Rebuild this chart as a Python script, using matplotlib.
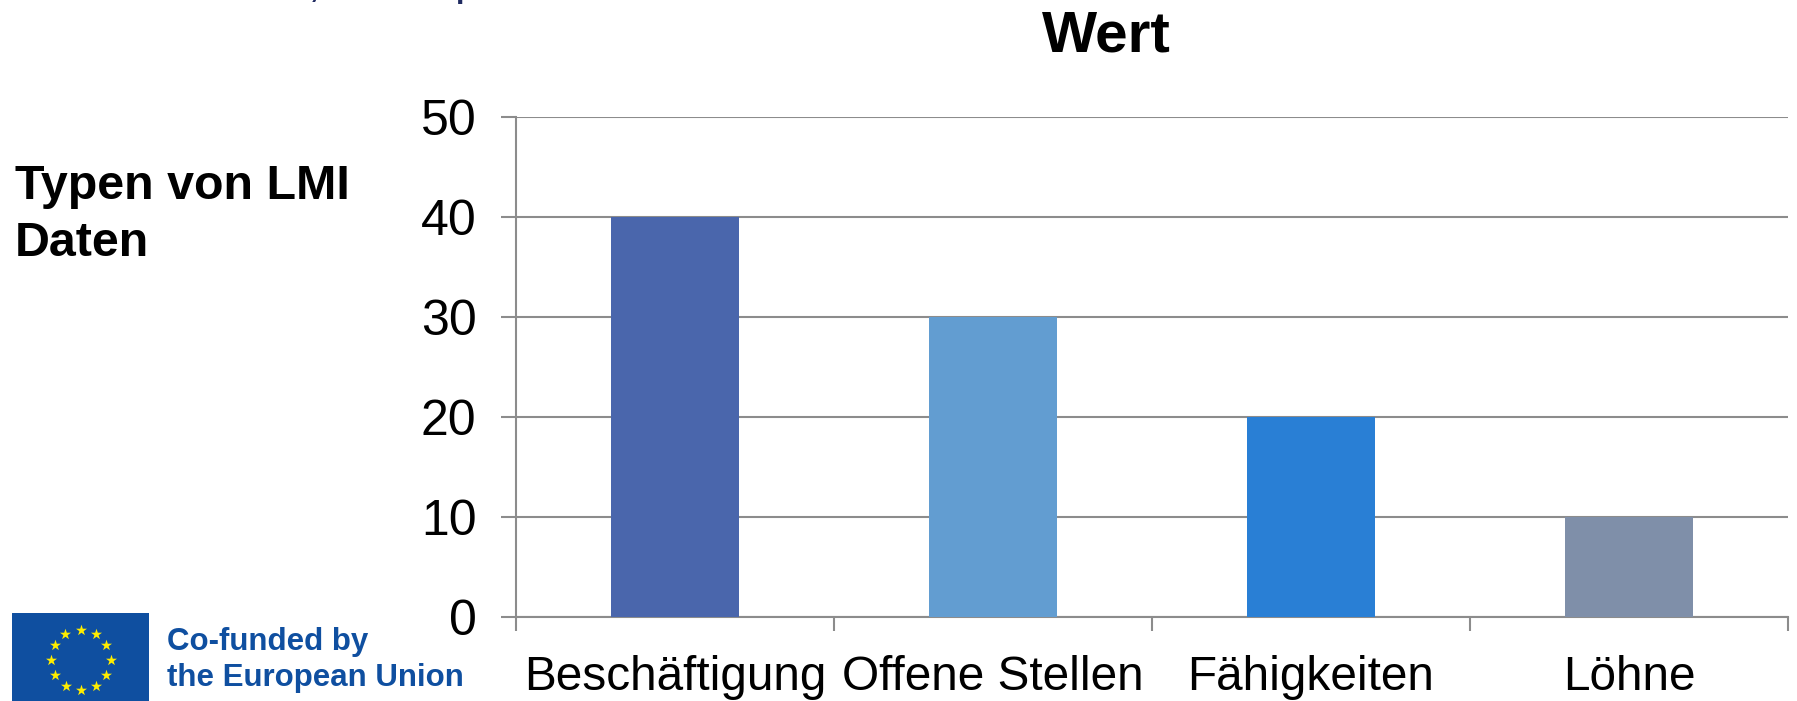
import numpy as np
import matplotlib
matplotlib.use('Agg')
import matplotlib.pyplot as plt
from matplotlib.patches import Rectangle

# --- Data ---
categories = ['Beschäftigung', 'Offene Stellen', 'Fähigkeiten', 'Löhne']
values = [40, 30, 20, 10]
bar_colors = ['#4A66AC', '#629DD1', '#297FD5', '#7F8FA9']
y_ticks = [0, 10, 20, 30, 40, 50]
chart_title = 'Wert'
side_label = 'Typen von LMI\nDaten'
logo_text = 'Co-funded by\nthe European Union'

W, H = 1797, 701
plt.rcParams['font.family'] = ['Liberation Sans', 'DejaVu Sans']

fig = plt.figure(figsize=(W / 100, H / 100), dpi=100)

# --- Chart axes, pixel box ---
left, right, top, bottom = 516, 1788, 117, 617
ax = fig.add_axes([left / W, 1 - bottom / H, (right - left) / W, (bottom - top) / H])
x = np.arange(len(categories))
ax.bar(x, values, width=0.4, color=bar_colors, zorder=3)
ax.set_xlim(-0.5, len(categories) - 0.5)
ax.set_ylim(0, 50)

grey = '#8C8C8C'
ax.set_yticks(y_ticks)
ax.yaxis.grid(True, color=grey, linewidth=1.5, zorder=1)
ax.set_axisbelow(True)
ax.set_xticks(np.arange(len(categories) + 1) - 0.5)
ax.set_xticklabels([])
ax.tick_params(axis='x', length=10, width=1.5, color=grey)
ax.tick_params(axis='y', length=11, width=1.5, color=grey, labelsize=36, pad=17.5)
for side in ['top', 'right']:
    ax.spines[side].set_visible(False)
for side in ['left', 'bottom']:
    ax.spines[side].set_color(grey)
    ax.spines[side].set_linewidth(1.5)

# category labels sit centred under the bars
for xi, cat in zip(x, categories):
    ax.annotate(cat, (xi, 0), xytext=(0, -27), textcoords='offset points',
                ha='center', va='top', fontsize=34.4)

fig.text(1106 / W, 1 - 37 / H, chart_title, ha='center', va='center', fontsize=42, fontweight='bold')
fig.text(15 / W, 1 - 215 / H, side_label, ha='left', va='center', fontsize=34.8,
         fontweight='bold', linespacing=1.32)

# --- Slide title that is cut off at the top edge, only descenders show ---
fig.text(314 / W, 1 + 4 / H, ',', color='#1F2A60', fontsize=34, ha='center', va='baseline')
fig.text(454 / W, 1 + 6 / H, 'p', color='#1F2A60', fontsize=34, ha='left', va='baseline')

# --- EU logo ---
fx0, fx1, fy0, fy1 = 12, 149, 613, 701
flag = fig.add_axes([fx0 / W, 1 - fy1 / H, (fx1 - fx0) / W, (fy1 - fy0) / H])
flag.set_xlim(fx0, fx1)
flag.set_ylim(fy1, fy0)
flag.axis('off')
flag.add_patch(Rectangle((fx0, fy0), fx1 - fx0, fy1 - fy0, color='#0F4FA0'))
angles = np.deg2rad(np.arange(12) * 30)
flag.scatter(80.5 + 30 * np.sin(angles), 660 - 30 * np.cos(angles), marker='*', s=70,
             color='#FFED00', linewidths=0, zorder=3)

fig.text(167 / W, 1 - 660 / H, logo_text, color='#0F4FA0', fontsize=22.5, fontweight='bold',
         ha='left', va='center', linespacing=1.27)

fig.savefig('out.png', dpi=100)
